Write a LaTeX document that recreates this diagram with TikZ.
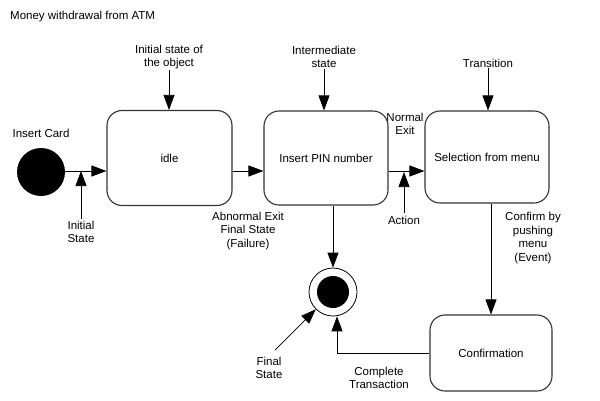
\documentclass[tikz,border=0pt]{standalone}
\usepackage{fontspec}
\setmainfont{Liberation Sans}
\usetikzlibrary{arrows.meta}
\begin{document}
\begin{tikzpicture}[x=1pt,y=-1pt,
  font=\fontsize{11.5}{13.5}\selectfont,
  statebox/.style={draw=black!80,line width=1.1pt,rounded corners=15pt,fill=white,align=center},
  lbl/.style={align=center,inner sep=0pt},
  conn/.style={line width=0.9pt,-{Triangle[length=15pt,width=11pt]}},
  ptr/.style={line width=0.7pt,-{Triangle[length=15pt,width=11pt]}}]
\useasboundingbox (0,0) rectangle (600,400);
\fill[white] (0,0) rectangle (600,400);
\node[lbl,anchor=west] (title) at (10,17) {Money withdrawal from ATM};
\coordinate (row) at (0,171);
% states
\node[statebox,minimum width=125pt,minimum height=95pt] (idle) at (169.5,158) {idle};
\node[statebox,minimum width=124pt,minimum height=94pt] (pin) at (326,158) {Insert PIN number};
\node[statebox,minimum width=124pt,minimum height=92pt] (sel) at (487,157) {Selection from menu};
\node[statebox,minimum width=122pt,minimum height=76pt] (conf) at (491,353) {Confirmation};
\node[circle,fill=black,minimum size=48pt,inner sep=0pt] (start) at (41,172) {};
\node[circle,draw=black,line width=0.8pt,minimum size=48pt,inner sep=0pt] (final) at (333,292) {};
\node[circle,fill=black,minimum size=32pt,inner sep=0pt] (finalin) at (333,292) {};
% labels
\node[lbl] (card) at (41,133) {Insert Card};
\node[lbl] (initstate) at (81,232) {Initial\\State};
\node[lbl] (tobj) at (169,57) {Initial state of\\the object};
\node[lbl] (tint) at (324,57) {Intermediate\\state};
\node[lbl] (ttrans) at (488,63) {Transition};
\node[lbl] (normal) at (405,124) {Normal\\Exit};
\node[lbl] (action) at (404,220) {Action};
\node[lbl] (abn) at (248,231) {Abnormal Exit\\Final State\\(Failure)};
\node[lbl] (confirm) at (533,238) {Confirm by\\pushing\\menu\\(Event)};
\node[lbl] (fstate) at (269,368) {Final\\State};
\node[lbl] (complete) at (379,378) {Complete\\Transaction};
\coordinate (fsfoot) at (275,350);
% transitions
\draw[conn] (start.east |- row) -- (idle.west |- row);
\draw[conn] (idle.east |- row) -- (pin.west |- row);
\draw[conn] (pin.east |- row) -- (sel.west |- row);
\draw[conn] (pin.south -| final.north) -- (final.north);
\draw[conn] (sel.south -| conf.north) -- (conf.north);
\draw[conn] (conf.west) -| ([xshift=4pt]final.south);
% pointers
\draw[ptr] ([yshift=2pt]initstate.north) -- (initstate.north |- row);
\draw[ptr] ([yshift=-1pt]tobj.south) -- (tobj.south |- idle.north);
\draw[ptr] ([yshift=-1pt]tint.south) -- (tint.south |- pin.north);
\draw[ptr] ([yshift=-1pt]ttrans.south) -- (ttrans.south |- sel.north);
\draw[ptr] ([yshift=3pt]action.north) -- ([yshift=-1pt]action.north |- row);
\draw[ptr] (fsfoot) -- (final.225);
\end{tikzpicture}
\end{document}
